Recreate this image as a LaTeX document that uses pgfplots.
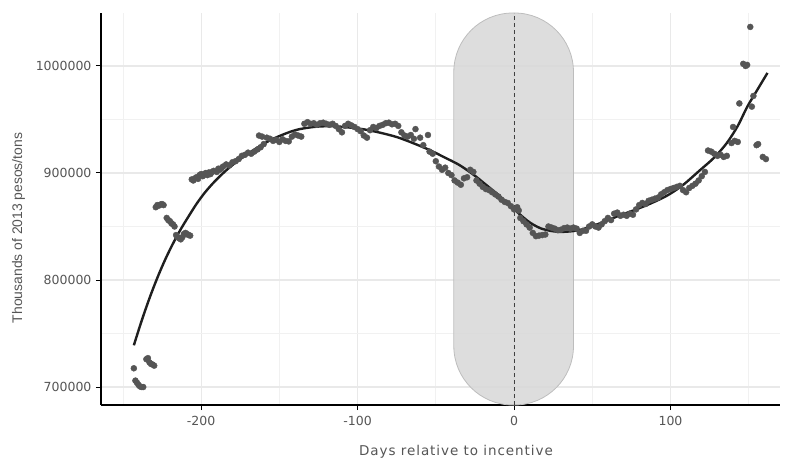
\documentclass[border=0pt]{standalone}
\usepackage{pgfplots}
\pgfplotsset{compat=1.18}
\usepackage{fontspec}
\setmainfont{DejaVu Sans}
\newfontfamily\xlabfont{DejaVu Sans}[LetterSpace=7]
\newfontfamily\ylabfont{Liberation Sans}
\usetikzlibrary{calc}

\definecolor{gridmaj}{HTML}{E9E9E9}
\definecolor{gridmin}{HTML}{F1F1F1}
\definecolor{pts}{HTML}{555555}
\definecolor{band}{HTML}{D9D9D9}
\definecolor{bandedge}{HTML}{BDBDBD}
\definecolor{txt}{HTML}{555555}

% daily prices around the incentive date
\pgfplotstableread{
x y
-243 717500
-242 706000
-241 704000
-240 702000
-239 700500
-238 700000
-237 700000
-235 726000
-234 727000
-233 723000
-232 721500
-231 721000
-230 720000
-229 868000
-228 870000
-227 869500
-226 870500
-225 871000
-224 870000
-222 858000
-221 856000
-220 855000
-219 853000
-218 852000
-217 850000
-216 842000
-215 840000
-214 839000
-213 838000
-212 840000
-211 843000
-210 844000
-209 843000
-208 842000
-207 841500
-206 894000
-205 893000
-204 895000
-203 896000
-202 894500
-201 898000
-200 899000
-199 897000
-198 899000
-197 900000
-196 898000
-195 900500
-194 899000
-193 901000
-192 902000
-190 901000
-189 904000
-188 903000
-187 904500
-186 906000
-184 908000
-182 907000
-180 910000
-178 911000
-176 913000
-174 916000
-172 917000
-170 919000
-168 918000
-166 920000
-164 922000
-163 935000
-162 924000
-161 934000
-160 927000
-158 933000
-156 932000
-154 930000
-152 931000
-150 929000
-148 931500
-146 930000
-144 929500
-142 934000
-140 936000
-138 935000
-136 934000
-134 946000
-132 947500
-130 946000
-128 946500
-126 945000
-124 946500
-122 947000
-120 946000
-118 945000
-116 946000
-114 944000
-112 941000
-110 938000
-108 944000
-106 946000
-104 944500
-102 943000
-100 941000
-98 939000
-96 935000
-94 933000
-92 940000
-90 943000
-88 942000
-86 944000
-84 945000
-82 946500
-80 947000
-78 945500
-76 946000
-74 944000
-72 938000
-70 935000
-68 934000
-66 935500
-64 932000
-63 941000
-60 933000
-58 926000
-55 935500
-54 920000
-52 918000
-50 911000
-48 906000
-46 903000
-44 905000
-42 900000
-40 898000
-38 893000
-36 891000
-34 889000
-32 895000
-30 896000
-28 903000
-26 901000
-24 893000
-22 890000
-20 887000
-18 885000
-16 884000
-14 882000
-12 880000
-10 878000
-8 875000
-6 873000
-4 872000
-2 869000
0 866000
2 868000
3 865000
4 858000
6 855000
8 852000
10 849000
12 844000
14 841000
16 841500
18 842000
20 842500
22 850000
24 849000
26 848000
28 846500
30 847000
32 848500
34 849000
36 848000
38 849000
40 848000
42 844000
44 846000
46 846000
48 850000
50 852000
52 850000
54 849000
56 852000
58 855000
60 858000
62 856000
64 862000
66 863000
68 860000
70 861000
72 860000
74 862000
76 861000
78 866000
80 870000
82 872000
84 871000
86 874000
88 875000
90 876000
92 877000
94 880000
96 882000
98 884000
100 885000
102 886000
104 887000
106 888000
108 884000
110 882000
112 886000
114 888000
116 890000
118 893000
120 897000
122 901000
124 921000
126 920000
128 918000
130 916000
132 917000
134 915000
136 916000
139 928000
140 943000
141 930000
143 929000
144 965000
146.5 1002000
148 1000000
149 1001000
151 1036500
152 962000
153 972000
155 926000
156 927000
159 915000
161 913000
}\prices

% smoothed trend
\pgfplotstableread{
x y
-243 739000
-238 762000
-233 783000
-228 802000
-223 819000
-218 834000
-213 847500
-208 859500
-203 871000
-198 881000
-193 889500
-188 897000
-182 905000
-175 913000
-168 920000
-162 925500
-156 930500
-150 934500
-143 938500
-137 941000
-128 943000
-120 943700
-112 943400
-104 942300
-96 940800
-86 937800
-75 933600
-65 928200
-54 921500
-45 915000
-35 907500
-26 898500
-20 891500
-15 885500
-10 879500
-4.5 872000
2 863500
8 856000
12 852000
17 848300
23 846000
29 845000
35 845300
42 846700
48 849500
55 853000
62 857000
68 860700
76 864800
87 871300
98 879000
108 888800
119 902800
128 914500
136 928000
143 944000
149 961700
155 976500
162 993500
}\trend

\begin{document}
\begin{tikzpicture}
\begin{axis}[
  width=679pt, height=392pt, scale only axis,
  xmin=-264, xmax=170,
  ymin=683200, ymax=1049500,
  axis x line*=bottom, axis y line*=left,
  axis line style={-, black, line width=1.1pt},
  xtick={-200,-100,0,100},
  minor xtick={-250,-150,-50,50,150},
  ytick={700000,800000,900000,1000000},
  minor ytick={750000,850000,950000,1050000},
  grid=both,
  major grid style={gridmaj, line width=1.1pt},
  minor grid style={gridmin, line width=0.7pt},
  tick align=outside,
  major tick length=5pt, minor tick length=0pt,
  tick style={black, line width=1pt},
  scaled y ticks=false,
  /pgf/number format/.cd, fixed, 1000 sep={}, assume math mode=true, /pgfplots/.cd,
  ticklabel style={font=\fontsize{12.5}{14}\selectfont, text=txt},
  xticklabel style={yshift=-3pt},
  yticklabel style={xshift=-1pt},
  clip=true,
]
\coordinate (bl) at (rel axis cs:0,0);
\coordinate (tr) at (rel axis cs:1,1);
\fill[band, draw=bandedge, line width=0.8pt, fill opacity=0.9, rounded corners=59pt]
  (axis cs:-38.5,683200) rectangle (axis cs:38,1049500);
\draw[black!75, dashed, line width=0.9pt, dash pattern=on 4pt off 3pt]
  (axis cs:0,683200) -- (axis cs:0,1049500);
\addplot[only marks, mark=*, mark size=3pt, color=pts, mark options={draw=pts, fill=pts}]
  table[x=x, y=y] {\prices};
\addplot[smooth, tension=0.5, color=black!88, line width=2.4pt, no marks]
  table[x=x, y=y] {\trend};
\end{axis}
% axis titles
\node[font=\xlabfont\fontsize{13.5}{15}\selectfont, text=txt, anchor=center]
  at ($(bl)+(355pt,-47pt)$) {Days relative to incentive};
\node[font=\ylabfont\fontsize{13.9}{16}\selectfont, text=txt, anchor=center, rotate=90]
  at ($(bl)+(-82.5pt,177pt)$) {Thousands of 2013 pesos/tons};
\pgfresetboundingbox
\path ($(bl)+(-101pt,-56pt)$) rectangle ($(tr)+(6pt,13pt)$);
\end{tikzpicture}
\end{document}
